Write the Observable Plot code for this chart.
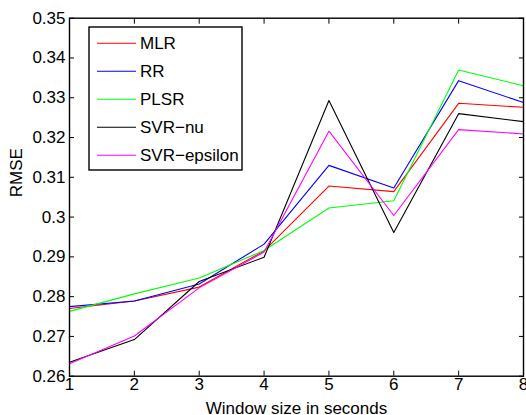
<!DOCTYPE html>
<html>
<head>
<meta charset="utf-8">
<script src="https://cdn.jsdelivr.net/npm/d3@7"></script>
<script src="https://cdn.jsdelivr.net/npm/@observablehq/plot@0.6"></script>
<style>
  html, body { margin: 0; padding: 0; background: #fff; }
  #wrap { position: relative; width: 526px; height: 415px; font-family: "Liberation Sans", Arial, sans-serif; }
  #legend { position: absolute; left: 0; top: 0; pointer-events: none; }
</style>
</head>
<body>
<div id="wrap"><div id="chart"></div><svg id="legend" width="526" height="415"></svg></div>
<script>
// ---- data ----
const windowSizes = [1, 2, 3, 4, 5, 6, 7, 8];
const seriesNames = ["MLR", "RR", "PLSR", "SVR\u2212nu", "SVR\u2212epsilon"];
const seriesColors = ["#ff0000", "#0000ff", "#00ff00", "#000000", "#ff00ff"];
const MLR    = [0.2770, 0.2789, 0.2824, 0.2915, 0.3078, 0.3064, 0.3286, 0.3276];
const RR     = [0.2775, 0.2789, 0.2832, 0.2932, 0.3130, 0.3073, 0.3343, 0.3288];
const PLSR   = [0.2763, 0.2807, 0.2847, 0.2916, 0.3023, 0.3041, 0.3370, 0.3330];
const SVRnu  = [0.2635, 0.2692, 0.2838, 0.2899, 0.3293, 0.2961, 0.3260, 0.3240];
const SVReps = [0.2631, 0.2701, 0.2822, 0.2912, 0.3216, 0.3004, 0.3220, 0.3209];
const xTicks = [1, 2, 3, 4, 5, 6, 7, 8];
const xTickLabels = ["1", "2", "3", "4", "5", "6", "7", "8"];
const yTicks = [0.26, 0.27, 0.28, 0.29, 0.30, 0.31, 0.32, 0.33, 0.34, 0.35];
const yTickLabels = ["0.26", "0.27", "0.28", "0.29", "0.3", "0.31", "0.32", "0.33", "0.34", "0.35"];
const xLabel = "Window size in seconds";
const yLabel = "RMSE";

const seriesValues = [MLR, RR, PLSR, SVRnu, SVReps];
const table = seriesNames.flatMap((name, s) =>
  windowSizes.map((w, i) => ({ series: name, x: w, y: seriesValues[s][i] })));

const font = "Liberation Sans, Arial, sans-serif";
const chart = Plot.plot({
  width: 526,
  height: 415,
  marginLeft: 69,
  marginRight: 3,
  marginTop: 17.7,
  marginBottom: 39.3,
  x: { domain: [1, 8] },
  y: { domain: [0.26, 0.35] },
  color: { domain: seriesNames, range: seriesColors },
  style: { fontFamily: font, fontSize: "17px", color: "#000", background: "#fff", overflow: "visible" },
  marks: [
    Plot.lineY(table, { x: "x", y: "y", z: "series", stroke: "series", strokeWidth: 1.1 }),
    // tick labels
    Plot.axisX(xTicks, { anchor: "bottom", tickSize: 0, tickPadding: 1.5, tickFormat: (d, i) => xTickLabels[xTicks.indexOf(d)], label: null, fontSize: 17 }),
    Plot.axisY(yTicks, { anchor: "left", tickSize: 0, tickPadding: 4, tickFormat: (d) => yTickLabels[yTicks.indexOf(d)], label: null, fontSize: 17 }),
    // inward ticks on all four sides
    Plot.axisX(xTicks, { anchor: "bottom", tickSize: -5, tickFormat: () => "", label: null }),
    Plot.axisX(xTicks, { anchor: "top", tickSize: -5, tickFormat: () => "", label: null }),
    Plot.axisY(yTicks, { anchor: "left", tickSize: -5, tickFormat: () => "", label: null }),
    Plot.axisY(yTicks, { anchor: "right", tickSize: -5, tickFormat: () => "", label: null }),
    Plot.frame({ stroke: "#000", strokeWidth: 1.4 }),
    Plot.text([xLabel], { frameAnchor: "bottom", text: (d) => d, dy: 32, lineAnchor: "middle", fontSize: 17 }),
    Plot.text([yLabel], { frameAnchor: "left", text: (d) => d, dx: -52.5, rotate: -90, lineAnchor: "middle", fontSize: 17 })
  ]
});
document.getElementById("chart").appendChild(chart);

// ---- legend (MATLAB-style box in upper left of the axes) ----
const lg = d3.select("#legend");
const box = { x: 89, y: 27, w: 153, h: 143 };
lg.append("rect").attr("x", box.x).attr("y", box.y).attr("width", box.w).attr("height", box.h)
  .attr("fill", "#fff").attr("stroke", "#000").attr("stroke-width", 1.4);
seriesNames.forEach((name, i) => {
  const cy = 43.3 + i * 28;
  lg.append("line").attr("x1", 97).attr("x2", 136).attr("y1", cy).attr("y2", cy)
    .attr("stroke", seriesColors[i]).attr("stroke-width", 1.1);
  lg.append("text").attr("x", 140).attr("y", cy).attr("dy", "0.35em")
    .attr("font-family", font).attr("font-size", 17).attr("fill", "#000").text(name);
});
</script>
</body>
</html>
